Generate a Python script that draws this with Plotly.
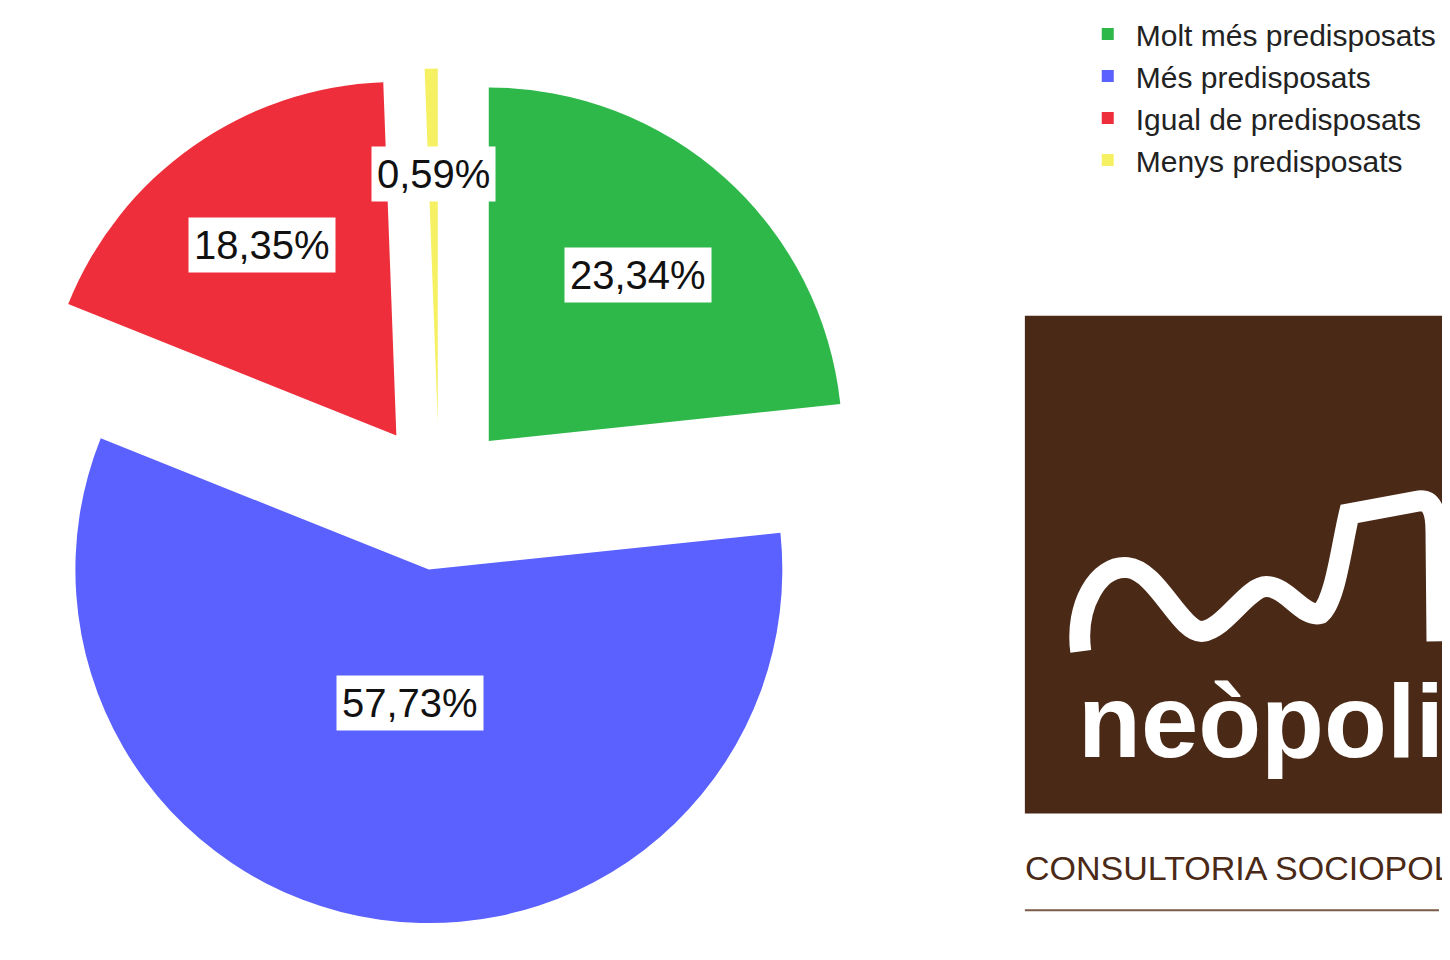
import math
import plotly.graph_objects as go

# ---- data ----
categories = ["Molt més predisposats", "Més predisposats", "Igual de predisposats", "Menys predisposats"]
values = [23.34, 57.73, 18.35, 0.59]
value_labels = ["23,34%", "57,73%", "18,35%", "0,59%"]
colors = ["#2fb84a", "#5b61fe", "#ee2f3b", "#f6f063"]

# ---- layout parameters ----
FW, FH = 1434, 944          # figure size (page body adds an 8px margin)
OFF = 8                     # body margin in screen pixels
PULL = 0.21
DOM_X = [0.0, 864 / FW]
DOM_Y = [0.03, 0.94]
label_radius = [0.63, 0.38, 0.66, 0.70]   # distance of value box from slice apex (fraction of radius)
BROWN = "#4a2916"
FONT = "Liberation Sans, Arial, sans-serif"


def fx(sx):
    """screen x pixel -> paper x"""
    return (sx - OFF) / FW


def fy(sy):
    """screen y pixel -> paper y"""
    return 1 - (sy - OFF) / FH


fig = go.Figure(
    go.Pie(
        labels=categories,
        values=values,
        sort=False,
        direction="clockwise",
        rotation=0,
        pull=PULL,
        marker=dict(colors=colors, line=dict(width=0)),
        textinfo="none",
        hoverinfo="label+percent",
        domain=dict(x=DOM_X, y=DOM_Y),
    )
)

# value boxes placed from the pie geometry (same formula plotly uses)
box_w = (DOM_X[1] - DOM_X[0]) * FW
box_h = (DOM_Y[1] - DOM_Y[0]) * FH
R = min(box_w, box_h) / 2 / (1 + PULL)
CX = FW * (DOM_X[0] + DOM_X[1]) / 2
CY = FH * (1 - (DOM_Y[0] + DOM_Y[1]) / 2)
total = sum(values)
cum = 0.0
for v, txt, k in zip(values, value_labels, label_radius):
    mid = 2 * math.pi * (cum + v / 2) / total
    cum += v
    dx, dy = math.sin(mid), -math.cos(mid)
    px = CX + (PULL + k) * R * dx
    py = CY + (PULL + k) * R * dy
    fig.add_annotation(
        x=px / FW, y=1 - py / FH, xref="paper", yref="paper",
        xanchor="center", yanchor="middle",
        text=txt, showarrow=False,
        font=dict(family=FONT, size=40, color="#111"),
        bgcolor="white", borderpad=5,
    )

# ---- logo block ----
def P(x, y):
    return f"{fx(x):.5f},{fy(y):.5f}"

fig.add_shape(type="rect", xref="paper", yref="paper",
              x0=fx(1027), x1=1.02, y0=fy(813), y1=fy(313),
              fillcolor=BROWN, line=dict(width=0), layer="below")

squiggle = (
    f"M{P(1083,650)} C{P(1077,605)} {P(1100,563)} {P(1130,566)} "
    f"C{P(1160,569)} {P(1183,632)} {P(1205,630)} "
    f"C{P(1228,627)} {P(1250,585)} {P(1269,585)} "
    f"C{P(1290,585)} {P(1306,617)} {P(1323,612)} "
    f"C{P(1338,600)} {P(1344,545)} {P(1352,512)} "
    f"L{P(1422,499)} C{P(1434,498)} {P(1439,508)} {P(1439,530)} L{P(1440,640)}"
)
fig.add_shape(type="path", xref="paper", yref="paper", path=squiggle,
              line=dict(color="white", width=21))

fig.add_annotation(x=fx(1078), y=fy(721), xref="paper", yref="paper",
                   xanchor="left", yanchor="middle", showarrow=False,
                   text="neòpolis",
                   font=dict(family=FONT, size=103, color="white", weight="bold"))
fig.add_annotation(x=fx(1025), y=fy(868), xref="paper", yref="paper",
                   xanchor="left", yanchor="middle", showarrow=False,
                   text="CONSULTORIA SOCIOPOLÍTICA",
                   font=dict(family=FONT, size=34, color=BROWN))
fig.add_shape(type="line", xref="paper", yref="paper",
              x0=fx(1027), x1=1.0, y0=fy(910), y1=fy(910),
              line=dict(color="#7a5a48", width=2))

fig.update_layout(
    width=FW, height=FH,
    margin=dict(l=0, r=0, t=0, b=0),
    paper_bgcolor="white", plot_bgcolor="white",
    showlegend=True,
    legend=dict(x=fx(1082), y=1 + 4.5 / FH, xanchor="left", yanchor="top",
                itemwidth=46,
                font=dict(family=FONT, size=30, color="#222"),
                bgcolor="rgba(0,0,0,0)", traceorder="normal"),
)

fig.write_html("out.html")
